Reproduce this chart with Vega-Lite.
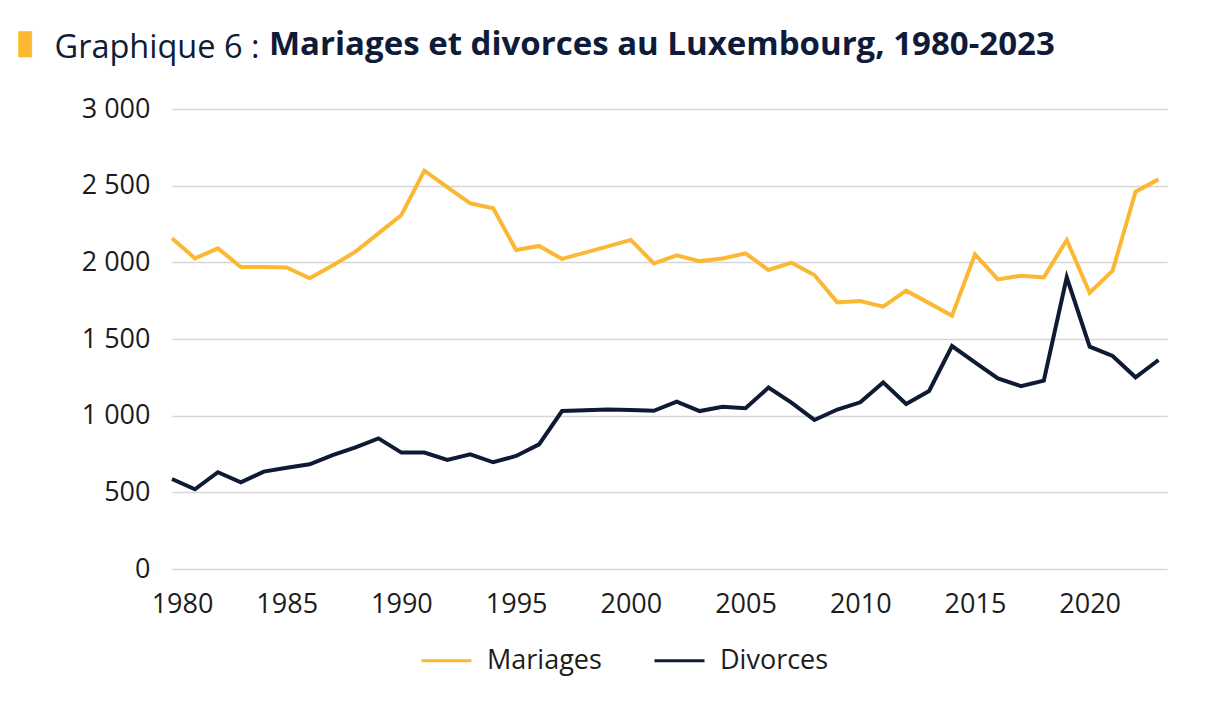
{
  "$schema": "https://vega.github.io/schema/vega-lite/v6.json",
  "autosize": "none",
  "padding": {"left": 172, "top": 109, "right": 57, "bottom": 138},
  "width": 995,
  "height": 460,
  "background": "white",
  "view": {"stroke": null},
  "title": {
    "text": "Mariages et divorces au Luxembourg, 1980-2023",
    "anchor": "start",
    "frame": "group",
    "dx": 97,
    "dy": 67,
    "font": "Open Sans",
    "fontSize": 33,
    "fontWeight": "bold",
    "color": "#0f1b38",
    "baseline": "alphabetic",
    "offset": 10
  },
  "data": {
    "values": [
      {"annee": 1980, "serie": "Mariages", "valeur": 2157},
      {"annee": 1981, "serie": "Mariages", "valeur": 2026},
      {"annee": 1982, "serie": "Mariages", "valeur": 2091},
      {"annee": 1983, "serie": "Mariages", "valeur": 1970},
      {"annee": 1984, "serie": "Mariages", "valeur": 1970},
      {"annee": 1985, "serie": "Mariages", "valeur": 1967},
      {"annee": 1986, "serie": "Mariages", "valeur": 1896},
      {"annee": 1987, "serie": "Mariages", "valeur": 1980},
      {"annee": 1988, "serie": "Mariages", "valeur": 2070},
      {"annee": 1989, "serie": "Mariages", "valeur": 2189},
      {"annee": 1990, "serie": "Mariages", "valeur": 2309},
      {"annee": 1991, "serie": "Mariages", "valeur": 2598},
      {"annee": 1992, "serie": "Mariages", "valeur": 2490},
      {"annee": 1993, "serie": "Mariages", "valeur": 2385},
      {"annee": 1994, "serie": "Mariages", "valeur": 2352},
      {"annee": 1995, "serie": "Mariages", "valeur": 2080},
      {"annee": 1996, "serie": "Mariages", "valeur": 2107},
      {"annee": 1997, "serie": "Mariages", "valeur": 2022},
      {"annee": 1998, "serie": "Mariages", "valeur": 2063},
      {"annee": 1999, "serie": "Mariages", "valeur": 2104},
      {"annee": 2000, "serie": "Mariages", "valeur": 2146},
      {"annee": 2001, "serie": "Mariages", "valeur": 1993},
      {"annee": 2002, "serie": "Mariages", "valeur": 2045},
      {"annee": 2003, "serie": "Mariages", "valeur": 2008},
      {"annee": 2004, "serie": "Mariages", "valeur": 2025},
      {"annee": 2005, "serie": "Mariages", "valeur": 2059},
      {"annee": 2006, "serie": "Mariages", "valeur": 1950},
      {"annee": 2007, "serie": "Mariages", "valeur": 1998},
      {"annee": 2008, "serie": "Mariages", "valeur": 1917},
      {"annee": 2009, "serie": "Mariages", "valeur": 1739},
      {"annee": 2010, "serie": "Mariages", "valeur": 1748},
      {"annee": 2011, "serie": "Mariages", "valeur": 1711},
      {"annee": 2012, "serie": "Mariages", "valeur": 1815},
      {"annee": 2013, "serie": "Mariages", "valeur": 1734},
      {"annee": 2014, "serie": "Mariages", "valeur": 1652},
      {"annee": 2015, "serie": "Mariages", "valeur": 2052},
      {"annee": 2016, "serie": "Mariages", "valeur": 1889},
      {"annee": 2017, "serie": "Mariages", "valeur": 1913},
      {"annee": 2018, "serie": "Mariages", "valeur": 1902},
      {"annee": 2019, "serie": "Mariages", "valeur": 2146},
      {"annee": 2020, "serie": "Mariages", "valeur": 1802},
      {"annee": 2021, "serie": "Mariages", "valeur": 1946},
      {"annee": 2022, "serie": "Mariages", "valeur": 2461},
      {"annee": 2023, "serie": "Mariages", "valeur": 2541},
      {"annee": 1980, "serie": "Divorces", "valeur": 587},
      {"annee": 1981, "serie": "Divorces", "valeur": 520},
      {"annee": 1982, "serie": "Divorces", "valeur": 631},
      {"annee": 1983, "serie": "Divorces", "valeur": 565},
      {"annee": 1984, "serie": "Divorces", "valeur": 635},
      {"annee": 1985, "serie": "Divorces", "valeur": 660},
      {"annee": 1986, "serie": "Divorces", "valeur": 683},
      {"annee": 1987, "serie": "Divorces", "valeur": 743},
      {"annee": 1988, "serie": "Divorces", "valeur": 793},
      {"annee": 1989, "serie": "Divorces", "valeur": 852},
      {"annee": 1990, "serie": "Divorces", "valeur": 759},
      {"annee": 1991, "serie": "Divorces", "valeur": 759},
      {"annee": 1992, "serie": "Divorces", "valeur": 711},
      {"annee": 1993, "serie": "Divorces", "valeur": 748},
      {"annee": 1994, "serie": "Divorces", "valeur": 696},
      {"annee": 1995, "serie": "Divorces", "valeur": 737},
      {"annee": 1996, "serie": "Divorces", "valeur": 813},
      {"annee": 1997, "serie": "Divorces", "valeur": 1030},
      {"annee": 1998, "serie": "Divorces", "valeur": 1035},
      {"annee": 1999, "serie": "Divorces", "valeur": 1041},
      {"annee": 2000, "serie": "Divorces", "valeur": 1037},
      {"annee": 2001, "serie": "Divorces", "valeur": 1032},
      {"annee": 2002, "serie": "Divorces", "valeur": 1091},
      {"annee": 2003, "serie": "Divorces", "valeur": 1030},
      {"annee": 2004, "serie": "Divorces", "valeur": 1058},
      {"annee": 2005, "serie": "Divorces", "valeur": 1048},
      {"annee": 2006, "serie": "Divorces", "valeur": 1183},
      {"annee": 2007, "serie": "Divorces", "valeur": 1085},
      {"annee": 2008, "serie": "Divorces", "valeur": 972},
      {"annee": 2009, "serie": "Divorces", "valeur": 1040},
      {"annee": 2010, "serie": "Divorces", "valeur": 1087},
      {"annee": 2011, "serie": "Divorces", "valeur": 1217},
      {"annee": 2012, "serie": "Divorces", "valeur": 1076},
      {"annee": 2013, "serie": "Divorces", "valeur": 1161},
      {"annee": 2014, "serie": "Divorces", "valeur": 1454},
      {"annee": 2015, "serie": "Divorces", "valeur": 1347},
      {"annee": 2016, "serie": "Divorces", "valeur": 1243},
      {"annee": 2017, "serie": "Divorces", "valeur": 1193},
      {"annee": 2018, "serie": "Divorces", "valeur": 1228},
      {"annee": 2019, "serie": "Divorces", "valeur": 1902},
      {"annee": 2020, "serie": "Divorces", "valeur": 1450},
      {"annee": 2021, "serie": "Divorces", "valeur": 1389},
      {"annee": 2022, "serie": "Divorces", "valeur": 1250},
      {"annee": 2023, "serie": "Divorces", "valeur": 1363}
    ]
  },
  "mark": {"type": "line", "strokeWidth": 4},
  "encoding": {
    "x": {
      "field": "annee",
      "type": "quantitative",
      "scale": {"domain": [1980, 2023.37], "nice": false, "zero": false},
      "axis": {
        "values": [1980, 1985, 1990, 1995, 2000, 2005, 2010, 2015, 2020],
        "format": "d",
        "grid": false,
        "domain": false,
        "ticks": false,
        "labelFlush": false,
        "labelOverlap": false,
        "labelFont": "Open Sans",
        "labelFontSize": 27,
        "labelColor": "#1c1c1c",
        "labelPadding": 22,
        "labelOffset": {"condition": {"test": "datum.value == 1980", "value": 10}, "value": 0},
        "title": "█",
        "titleFont": "DejaVu Sans Mono",
        "titleFontSize": 22,
        "titleColor": "#FBB834",
        "titleAlign": "left",
        "titleBaseline": "top",
        "titleAngle": 0,
        "titleX": -154,
        "titleY": -535
      }
    },
    "y": {
      "field": "valeur",
      "type": "quantitative",
      "scale": {"domain": [0, 3000], "nice": false},
      "axis": {
        "values": [0, 500, 1000, 1500, 2000, 2500, 3000],
        "labelExpr": "replace(format(datum.value, ','), ',', ' ')",
        "domain": false,
        "ticks": false,
        "grid": true,
        "gridColor": "#d6d6d6",
        "gridWidth": 1.5,
        "labelFont": "Open Sans",
        "labelFontSize": 27,
        "labelColor": "#1c1c1c",
        "labelPadding": 22,
        "title": "Graphique 6 :",
        "titleFont": "Open Sans",
        "titleFontSize": 32.5,
        "titleFontWeight": "normal",
        "titleColor": "#0f1b38",
        "titleAngle": 0,
        "titleAlign": "left",
        "titleBaseline": "alphabetic",
        "titleX": -118,
        "titleY": -52
      }
    },
    "color": {
      "field": "serie",
      "type": "nominal",
      "scale": {"domain": ["Mariages", "Divorces"], "range": ["#FBB834", "#0E1B33"]},
      "legend": {
        "title": null,
        "orient": "none",
        "direction": "horizontal",
        "legendX": 248,
        "legendY": 525,
        "symbolType": "stroke",
        "symbolSize": 2500,
        "symbolStrokeWidth": 3,
        "labelFont": "Open Sans",
        "labelFontSize": 27,
        "labelColor": "#1c1c1c",
        "labelOffset": 14,
        "columnPadding": 46
      }
    }
  }
}
